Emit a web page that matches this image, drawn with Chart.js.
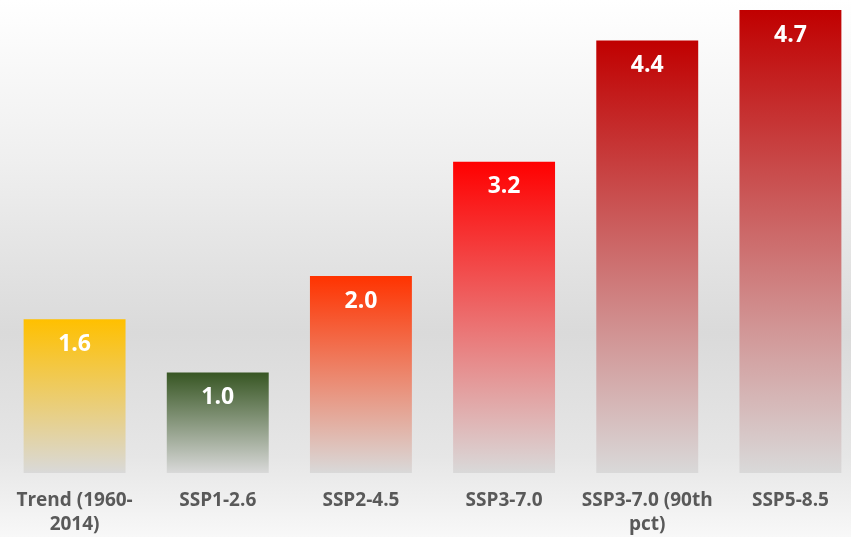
<!DOCTYPE html>
<html>
<head>
<meta charset="utf-8">
<script src="https://cdn.jsdelivr.net/npm/chart.js@4/dist/chart.umd.min.js"></script>
<style>
  html, body { margin: 0; padding: 0; overflow: hidden; background: #fff; }
  #wrap { width: 862px; height: 537px; }
</style>
</head>
<body>
<div id="wrap"><canvas id="warming-chart"></canvas></div>
<script>
const categories = [['Trend (1960-', '2014)'], 'SSP1-2.6', 'SSP2-4.5', 'SSP3-7.0', ['SSP3-7.0 (90th', 'pct)'], 'SSP5-8.5'];
const warming = [1.56, 1.02, 2.0, 3.16, 4.39, 4.7];
const topColors = ['#FFC000', '#375623', '#FF3300', '#FF0000', '#C00000', '#C00000'];
const bottomColor = '#D9D9D9';

// light grey wash behind everything
const backdrop = {
    id: 'backdrop',
    beforeDraw(chart) {
        const { ctx, width, height } = chart;
        const g = ctx.createLinearGradient(0, 0, 0, height);
        g.addColorStop(0, '#FFFFFF');
        g.addColorStop(0.3, '#EFEFEF');
        g.addColorStop(0.62, '#DADADA');
        g.addColorStop(0.85, '#E6E6E6');
        g.addColorStop(1, '#F8F8F8');
        ctx.save();
        ctx.fillStyle = g;
        ctx.fillRect(0, 0, width, height);
        ctx.restore();
    }
};

// white value labels just inside the top of each bar
const valueLabels = {
    id: 'valueLabels',
    afterDatasetsDraw(chart) {
        const { ctx } = chart;
        const meta = chart.getDatasetMeta(0);
        ctx.save();
        ctx.font = 'bold 23px "Open Sans"';
        ctx.fillStyle = '#FFFFFF';
        ctx.textAlign = 'center';
        ctx.textBaseline = 'middle';
        meta.data.forEach((bar, i) => {
            ctx.fillText(warming[i].toFixed(1), bar.x, bar.y + 25);
        });
        ctx.restore();
    }
};

function barGradient(context) {
    const chart = context.chart;
    if (!chart.chartArea || context.type !== 'data') return topColors[context.dataIndex];
    const y = chart.scales.y;
    const top = y.getPixelForValue(warming[context.dataIndex]);
    const bottom = y.getPixelForValue(0);
    const g = chart.ctx.createLinearGradient(0, top, 0, bottom);
    g.addColorStop(0, topColors[context.dataIndex]);
    g.addColorStop(1, bottomColor);
    return g;
}

new Chart(document.getElementById('warming-chart'), {
    type: 'bar',
    data: {
        labels: categories,
        datasets: [{
            data: warming,
            backgroundColor: barGradient,
            borderWidth: 0,
            barPercentage: 0.712,
            categoryPercentage: 1
        }]
    },
    options: {
        responsive: true,
        maintainAspectRatio: false,
        animation: false,
        layout: { padding: { top: 10, left: 3, right: 0, bottom: 0 } },
        plugins: { legend: { display: false }, tooltip: { enabled: false } },
        scales: {
            x: {
                grid: { display: false, drawTicks: false },
                border: { display: false },
                afterFit: (scale) => { scale.height = 64; },
                ticks: {
                    padding: 16,
                    color: '#595959',
                    maxRotation: 0,
                    autoSkip: false,
                    font: { family: '"Open Sans"', size: 19, weight: 'bold', lineHeight: 1.25 }
                }
            },
            y: {
                display: false,
                min: 0,
                max: 4.7
            }
        }
    },
    plugins: [backdrop, valueLabels]
});
</script>
</body>
</html>
